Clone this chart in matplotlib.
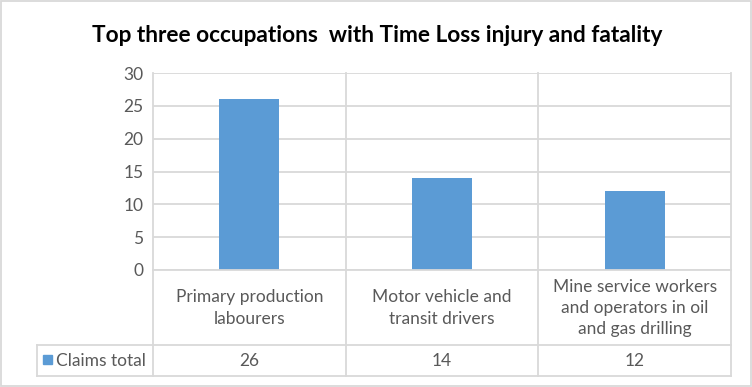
import matplotlib.pyplot as plt
import matplotlib.patches as mpatches

categories = ['Primary production\nlabourers',
              'Motor vehicle and\ntransit drivers',
              'Mine service workers\nand operators in oil\nand gas drilling']
claims_total = [26, 14, 12]
series_name = 'Claims total'
title = 'Top three occupations  with Time Loss injury and fatality'
yticks = [0, 5, 10, 15, 20, 25, 30]

W, H = 752, 387
bar_color = '#5b9bd5'
grid_color = '#d9d9d9'
text_color = '#595959'
plt.rcParams['font.family'] = ['Lato', 'DejaVu Sans']
fs = 12.5

fig = plt.figure(figsize=(W / 100, H / 100), dpi=100)

# plot area in pixels
x0, x1 = 153, 731
y_top, y_bot = 73, 270
row1, row2 = 345, 376
leg_x = 37

ax = fig.add_axes([x0 / W, 1 - y_bot / H, (x1 - x0) / W, (y_bot - y_top) / H])
n = len(categories)
ax.bar(range(n), claims_total, width=0.31, color=bar_color, zorder=3)
ax.set_xlim(-0.5, n - 0.5)
ax.set_ylim(0, 30)
ax.set_yticks(yticks)
ax.set_yticklabels([str(t) for t in yticks], fontsize=fs, color=text_color)
ax.tick_params(axis='y', length=0, pad=7)
ax.set_xticks([])
for s in ax.spines.values():
    s.set_visible(False)
ax.grid(True, axis='y', color=grid_color, linewidth=1.3, zorder=0)

# overlay in pixel coords for the data table
ov = fig.add_axes([0, 0, 1, 1])
ov.set_xlim(0, W)
ov.set_ylim(H, 0)
ov.axis('off')
ov.patch.set_alpha(0)

lw = 1.3
col_w = (x1 - x0) / n
for i in range(n + 1):
    xx = x0 + i * col_w
    ov.plot([xx, xx], [y_top, row2], color=grid_color, lw=lw)
ov.plot([leg_x, x1], [row1, row1], color=grid_color, lw=lw)
ov.plot([leg_x, x1], [row2, row2], color=grid_color, lw=lw)
ov.plot([leg_x, leg_x], [row1, row2], color=grid_color, lw=lw)
ov.plot([x0, x1], [y_bot, y_bot], color=grid_color, lw=lw)

for i, (cat, v) in enumerate(zip(categories, claims_total)):
    cx = x0 + (i + 0.5) * col_w
    ov.text(cx, (y_bot + row1) / 2 + 0.5, cat, ha='center', va='center',
            fontsize=fs, color=text_color, linespacing=1.4)
    ov.text(cx, (row1 + row2) / 2 + 1, str(v), ha='center', va='center',
            fontsize=fs, color=text_color)

ov.add_patch(mpatches.Rectangle((43, 355), 9, 9, color=bar_color))
ov.text(56, (row1 + row2) / 2 + 1, series_name, ha='left', va='center',
        fontsize=fs, color=text_color)

ov.text(W / 2 + 1, 35, title, ha='center', va='center', fontsize=16.3,
        fontweight='bold', color='black')

# outer border
ov.add_patch(mpatches.Rectangle((0.5, 0.5), W - 1.5, H - 1.5, fill=False,
                                edgecolor=grid_color, lw=1.3))

fig.savefig('out.png', dpi=100, facecolor='white')
